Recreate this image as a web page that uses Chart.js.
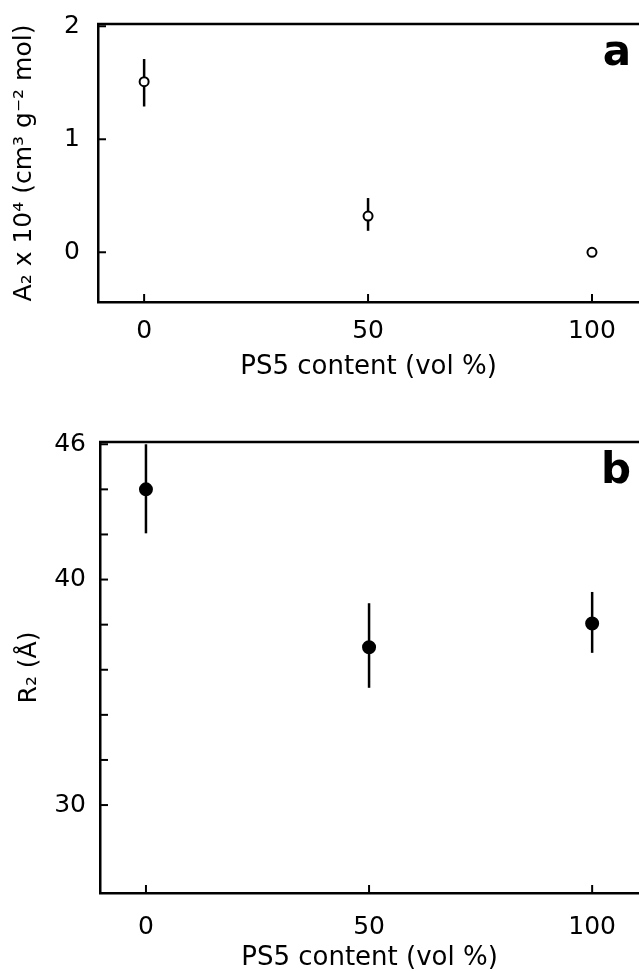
<!DOCTYPE html>
<html>
<head>
<meta charset="utf-8">
<script src="https://cdn.jsdelivr.net/npm/chart.js@4.4.1/dist/chart.umd.min.js"></script>
<style>
  body { margin: 0; background: #fff; overflow: hidden; }
  .panel { position: absolute; left: 0; width: 639px; }
  #panelA { top: 0; height: 390px; }
  #panelB { top: 400px; height: 571px; }
</style>
</head>
<body>
<div class="panel" id="panelA"><canvas id="chartA"></canvas></div>
<div class="panel" id="panelB"><canvas id="chartB"></canvas></div>
<script>
// PS5 content (vol %)
const xVals = [0, 50, 100];
const xTicks = [0, 50, 100];

// panel a: A2 x 10^4
const a2Vals = [1.51, 0.32, 0.0];
const a2Low = [1.29, 0.19, 0.0];
const a2High = [1.71, 0.48, 0.0];
const a2Ticks = [0, 1, 2];
const a2Labels = [0, 1, 2];

// panel b: R2 (Å)
const r2Vals = [44.0, 37.0, 38.05];
const r2Low = [42.05, 35.2, 36.75];
const r2High = [46.0, 38.95, 39.45];
const r2Ticks = [30, 32, 34, 36, 38, 40, 42, 44, 46];
const r2Labels = [30, 40, 46];

const FONT = "'DejaVu Sans', sans-serif";

// draws error bars, inward ticks, the top frame line and the panel letter
const framePlugin = {
  id: 'frame',
  beforeDatasetsDraw(chart) {
    const ctx = chart.ctx;
    const area = chart.chartArea;
    const o = chart.options.plugins.frame;
    const xs = chart.scales.x, ys = chart.scales.y;
    ctx.save();
    ctx.beginPath();
    ctx.rect(area.left, area.top - 1, area.right - area.left, area.bottom - area.top + 1);
    ctx.clip();
    ctx.strokeStyle = '#000';
    ctx.lineWidth = 2.5;
    o.low.forEach((lo, i) => {
      const hi = o.high[i];
      if (lo === hi) return;
      const px = xs.getPixelForValue(xVals[i]);
      ctx.beginPath();
      ctx.moveTo(px, ys.getPixelForValue(lo));
      ctx.lineTo(px, ys.getPixelForValue(hi));
      ctx.stroke();
    });
    ctx.restore();
  },
  afterDraw(chart) {
    const ctx = chart.ctx;
    const area = chart.chartArea;
    const o = chart.options.plugins.frame;
    const xs = chart.scales.x, ys = chart.scales.y;
    ctx.save();
    ctx.strokeStyle = '#000';
    ctx.lineWidth = 2.5;
    ctx.beginPath();
    ctx.moveTo(area.left - 1, area.top);
    ctx.lineTo(area.right, area.top);
    ctx.stroke();
    ctx.lineWidth = 2;
    xs.ticks.forEach(t => {
      const px = xs.getPixelForValue(t.value);
      ctx.beginPath();
      ctx.moveTo(px, area.bottom);
      ctx.lineTo(px, area.bottom - 8);
      ctx.stroke();
    });
    ys.ticks.forEach(t => {
      const py = ys.getPixelForValue(t.value);
      ctx.beginPath();
      ctx.moveTo(area.left, py);
      ctx.lineTo(area.left + 8, py);
      ctx.stroke();
    });
    ctx.fillStyle = '#000';
    ctx.font = "bold 42px 'DejaVu Sans', sans-serif";
    ctx.textAlign = 'right';
    ctx.textBaseline = 'alphabetic';
    ctx.fillText(o.letter, 631, area.top + o.letterDy);
    ctx.restore();
  }
};

function makeChart(id, cfg) {
  return new Chart(document.getElementById(id), {
    type: 'scatter',
    data: {
      datasets: [{
        data: xVals.map((x, i) => ({ x: x, y: cfg.vals[i] })),
        pointStyle: 'circle',
        pointRadius: cfg.radius,
        pointBorderWidth: 2,
        pointBackgroundColor: cfg.fill,
        pointBorderColor: '#000'
      }]
    },
    options: {
      responsive: true,
      maintainAspectRatio: false,
      animation: false,
      layout: { autoPadding: false, padding: { top: cfg.top, right: 0, bottom: 0, left: 0 } },
      plugins: {
        legend: { display: false },
        tooltip: { enabled: false },
        frame: { low: cfg.low, high: cfg.high, letter: cfg.letter, letterDy: cfg.letterDy }
      },
      scales: {
        x: {
          type: 'linear',
          min: -10.3,
          max: 110.5,
          afterBuildTicks: s => { s.ticks = xTicks.map(v => ({ value: v })); },
          afterFit: s => { s.height = cfg.xHeight; s.paddingLeft = 0; s.paddingRight = 0; },
          grid: { display: false },
          border: { display: true, color: '#000', width: 2.5 },
          ticks: { color: '#000', padding: cfg.xPad, maxRotation: 0, font: { family: FONT, size: 25 } },
          title: {
            display: true,
            text: 'PS5 content (vol %)',
            color: '#000',
            font: { family: FONT, size: 26, lineHeight: 1 },
            padding: { top: 0, bottom: cfg.xTitlePad }
          }
        },
        y: {
          type: 'linear',
          min: cfg.ymin,
          max: cfg.ymax,
          afterBuildTicks: s => { s.ticks = cfg.ticks.map(v => ({ value: v })); },
          afterFit: s => { s.width = cfg.yWidth; s.paddingTop = 0; s.paddingBottom = 0; },
          grid: { display: false },
          border: { display: true, color: '#000', width: 2.5 },
          ticks: {
            color: '#000',
            padding: cfg.yPad,
            font: { family: FONT, size: 25 },
            callback: v => (cfg.labels.includes(v) ? String(v) : '')
          },
          title: {
            display: true,
            text: cfg.yTitle,
            color: '#000',
            font: { family: FONT, size: 25, lineHeight: 1 },
            padding: { top: cfg.yTitlePad, bottom: 0 }
          }
        }
      }
    },
    plugins: [framePlugin]
  });
}

makeChart('chartA', {
  vals: a2Vals, low: a2Low, high: a2High,
  ticks: a2Ticks, labels: a2Labels,
  ymin: -0.44, ymax: 2.02,
  radius: 4.5, fill: '#fff',
  top: 24, xHeight: 88, yWidth: 98,
  xPad: 6, yPad: 10, xTitlePad: 10, yTitlePad: 12,
  yTitle: 'A₂ x 10⁴ (cm³ g⁻² mol)',
  letter: 'a', letterDy: 41
});

makeChart('chartB', {
  vals: r2Vals, low: r2Low, high: r2High,
  ticks: r2Ticks, labels: r2Labels,
  ymin: 26.1, ymax: 46.1,
  radius: 6, fill: '#000',
  top: 42, xHeight: 78, yWidth: 100,
  xPad: 11, yPad: 6, xTitlePad: 0, yTitlePad: 17,
  yTitle: 'R₂ (Å)',
  letter: 'b', letterDy: 41
});
</script>
</body>
</html>
